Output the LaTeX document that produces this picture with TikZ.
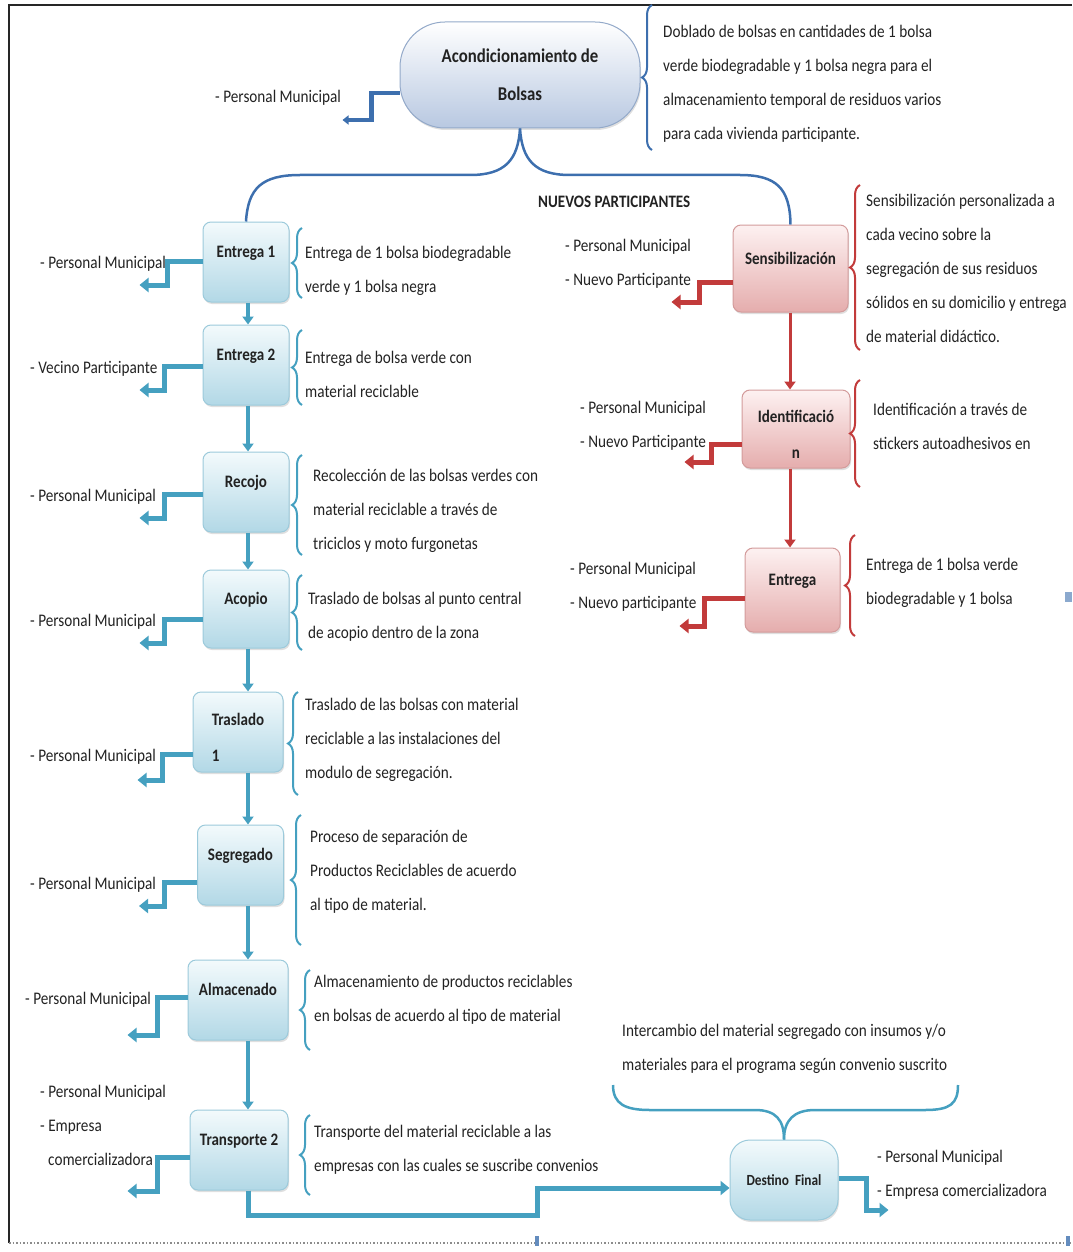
\documentclass[tikz,border=0pt]{standalone}
\usepackage{fontspec}
\setmainfont{Carlito}[FakeStretch=0.86]
\usetikzlibrary{arrows.meta,decorations.pathreplacing,shadows}

\definecolor{bluetop}{HTML}{F3FAFC}
\definecolor{bluebot}{HTML}{B2D8E6}
\definecolor{blueline}{HTML}{9CCADB}
\definecolor{pinktop}{HTML}{FDF1F1}
\definecolor{pinkbot}{HTML}{E5ADAD}
\definecolor{pinkline}{HTML}{D39B9B}
\definecolor{acotop}{HTML}{FFFFFF}
\definecolor{acobot}{HTML}{B8C8E1}
\definecolor{acoline}{HTML}{93A9C9}
\definecolor{tealc}{HTML}{45A0C0}
\definecolor{darkblue}{HTML}{3D6FAE}
\definecolor{redc}{HTML}{C23B3B}
\definecolor{inkc}{HTML}{222222}

\tikzset{
  x=1pt, y=-1pt,
  txt/.style={font=\fontsize{17.7}{34}\selectfont, text=inkc, inner sep=0pt, align=left, anchor=west},
  boxbase/.style={rounded corners=8pt, inner sep=2pt, minimum height=80pt,
    font=\bfseries\fontsize{17.5}{36}\selectfont, text=inkc,
    drop shadow={opacity=0.25, shadow xshift=1pt, shadow yshift=-2pt}},
  bbox/.style={boxbase, draw=blueline, line width=1pt, top color=bluetop, bottom color=bluebot},
  pbox/.style={boxbase, draw=pinkline, line width=1pt, top color=pinktop, bottom color=pinkbot},
  titled/.style={text height=12pt, text depth=21pt},
  tconn/.style={draw=tealc, line width=5pt, -{Triangle[length=9pt,width=14pt]}},
  rconn/.style={draw=redc, line width=5pt, -{Triangle[length=9pt,width=14pt]}},
  tdown/.style={draw=tealc, line width=3.5pt, -{Triangle[length=8pt,width=11pt]}},
  rdown/.style={draw=redc, line width=3pt, -{Triangle[length=8pt,width=11pt]}},
  tbrace/.style={draw=tealc, line width=2pt, decorate, decoration={brace, amplitude=10pt}},
  rbrace/.style={draw=redc, line width=2pt, decorate, decoration={brace, amplitude=10pt}},
  dbrace/.style={draw=darkblue, line width=2pt, decorate, decoration={brace, amplitude=10pt}},
}

\begin{document}
\begin{tikzpicture}
\useasboundingbox (0,0) rectangle (1072,1252);

% page frame
\draw[line width=2pt, black!85] (9,1243) -- (9,5) -- (1072,5);
\draw[line width=1.5pt, black!45, dotted] (9,1243) -- (1072,1243);
\fill[darkblue!80] (535,1236) rectangle (539,1246);
\fill[darkblue!80] (1066,1236) rectangle (1070,1246);
\fill[darkblue!60] (1065,592) rectangle (1072,602);

% guide axes for the vertical arrows
\coordinate (axis) at (248,0);
\coordinate (raxis) at (790,0);
\coordinate (mid) at (537,1215);

% ---------- top node ----------
\node[boxbase, draw=acoline, line width=1pt, top color=acotop, bottom color=acobot,
      rounded corners=45pt, minimum width=240pt, minimum height=106pt, align=center,
      font=\bfseries\fontsize{19.5}{38}\selectfont]
      (acond) at (520,75) {Acondicionamiento de\\Bolsas};
\node[txt] (acondrole) at (215,98) {- Personal Municipal};
\draw[draw=darkblue, line width=4.5pt, -{Triangle[length=6pt,width=9pt]}]
      ([yshift=-18pt]acond.west) -- ++(-28,0) |- ++(-29,27);
\draw[dbrace] (652,150) -- (652,5);
\node[txt] (acondtxt) at (663,84) {Doblado de bolsas en cantidades de 1 bolsa\\verde biodegradable y 1 bolsa negra para el\\almacenamiento temporal de residuos varios\\para cada vivienda participante.};

% ---------- left column ----------
\node[bbox, titled, minimum width=86pt] (e1) at (246,262) {Entrega 1};
\node[bbox, titled, minimum width=86pt] (e2) at (246,365) {Entrega 2};
\node[bbox, titled, minimum width=86pt] (rec) at (246,492) {Recojo};
\node[bbox, titled, minimum width=86pt, minimum height=78pt] (aco) at (246,609) {Acopio};
\node[bbox, minimum width=90pt, align=left] (tra) at (238,732) {\rule{0pt}{22pt}Traslado\\1};
\node[bbox, titled, minimum width=86pt] (seg) at (240.5,865) {Segregado};
\node[bbox, titled, minimum width=100pt] (alm) at (238,1000) {Almacenado};
\node[bbox, titled, minimum width=98pt] (tr2) at (239,1150) {Transporte 2};

% ---------- new participants branch ----------
\node[txt, font=\bfseries\fontsize{17.5}{20}\selectfont] (nuevos) at (538,202) {NUEVOS PARTICIPANTES};
\node[pbox, titled, minimum width=115pt, minimum height=87pt] (sens) at (790.5,268.5) {Sensibilización};
\node[pbox, minimum width=108pt, minimum height=78pt, align=center] (ide) at (796,429) {\rule{0pt}{22pt}Identificació\\n};
\node[pbox, titled, minimum width=95pt, minimum height=84pt] (ent) at (792.5,590) {Entrega};

% big brace from the top node to both branches
\draw[draw=darkblue, line width=2.5pt]
  (e1.north) .. controls (248,188) and (262,175) .. (300,175) -- (470,175)
  .. controls (505,175) and (518,160) .. (acond.south);
\draw[draw=darkblue, line width=2.5pt]
  (acond.south) .. controls (522,160) and (535,175) .. (570,175) -- (740,175)
  .. controls (776,175) and (790,188) .. (sens.north);

% flow arrows
\draw[tdown] (e1.south -| axis) -- (e2.north -| axis);
\draw[tdown] (e2.south -| axis) -- (rec.north -| axis);
\draw[tdown] (rec.south -| axis) -- (aco.north -| axis);
\draw[tdown] (aco.south -| axis) -- (tra.north -| axis);
\draw[tdown] (tra.south -| axis) -- (seg.north -| axis);
\draw[tdown] (seg.south -| axis) -- (alm.north -| axis);
\draw[tdown] (alm.south -| axis) -- (tr2.north -| axis);

% participants
\node[txt] (e1r) at (40,264) {- Personal Municipal};
\node[txt] (e2r) at (30,369) {- Vecino Participante};
\node[txt] (recr) at (30,497) {- Personal Municipal};
\node[txt] (acor) at (30,622) {- Personal Municipal};
\node[txt] (trar) at (30,757) {- Personal Municipal};
\node[txt] (segr) at (30,885) {- Personal Municipal};
\node[txt] (almr) at (25,1000) {- Personal Municipal};
\node[txt] (tr2r) at (40,1125) {- Personal Municipal\\- Empresa\\\hspace*{8pt}comercializadora};

\draw[tconn] ([yshift=1pt]e1.west) -- ++(-35,0) |- ++(-28,24);
\draw[tconn] ([yshift=-1pt]e2.west) -- ++(-38,0) |- ++(-25,24);
\draw[tconn] ([yshift=-2pt]rec.west) -- ++(-38,0) |- ++(-25,24);
\draw[tconn] ([yshift=-10pt]aco.west) -- ++(-38,0) |- ++(-25,24);
\draw[tconn] ([yshift=-22pt]tra.west) -- ++(-30,0) |- ++(-25,26);
\draw[tconn] ([yshift=-17pt]seg.west) -- ++(-33,0) |- ++(-25,24);
\draw[tconn] ([yshift=3pt]alm.west) -- ++(-30,0) |- ++(-30,38);
\draw[tconn] ([yshift=-7pt]tr2.west) -- ++(-32,0) |- ++(-30,34);

% descriptions
\draw[tbrace] (302,298) -- (302,228);
\node[txt] (e1d) at (305,270.5) {Entrega de 1 bolsa biodegradable\\verde y 1 bolsa negra};
\draw[tbrace] (302,405) -- (302,330);
\node[txt] (e2d) at (305,374.5) {Entrega de bolsa verde con\\material reciclable};
\draw[tbrace] (302,555) -- (302,455);
\node[txt] (recd) at (313,511) {Recolección de las bolsas verdes con\\material reciclable a través de\\triciclos y moto furgonetas};
\draw[tbrace] (302,650) -- (302,575);
\node[txt] (acod) at (308,617) {Traslado de bolsas al punto central\\de acopio dentro de la zona};
\draw[tbrace] (298,795) -- (298,692);
\node[txt] (trad) at (305,740) {Traslado de las bolsas con material\\reciclable a las instalaciones del\\modulo de segregación.};
\draw[tbrace] (301,945) -- (301,815);
\node[txt] (segd) at (310,872) {Proceso de separación de\\Productos Reciclables de acuerdo\\al tipo de material.};
\draw[tbrace] (310,1050) -- (310,970);
\node[txt] (almd) at (314,1000) {Almacenamiento de productos reciclables\\en bolsas de acuerdo al tipo de material};
\draw[tbrace] (310,1195) -- (310,1115);
\node[txt] (tr2d) at (314,1150) {Transporte del material reciclable a las\\empresas con las cuales se suscribe convenios};

% ---------- final destination ----------
\node[bbox, rounded corners=20pt, minimum width=108pt, font=\bfseries\fontsize{15.5}{20}\selectfont]
      (dest) at (784,1180) {Destino\ \ Final};
\draw[tconn] (tr2.south -| axis) |- (mid) |- ([yshift=-8pt]dest.west);
\draw[tconn] ([yshift=2pt]dest.east) -- ++(28,0) |- ++(22,32);
\node[txt] (destr) at (877,1175) {- Personal Municipal\\- Empresa comercializadora};
\draw[draw=tealc, line width=2.5pt]
  (613,1085) .. controls (613,1104) and (625,1110) .. (650,1110) -- (755,1110)
  .. controls (776,1110) and (784,1120) .. (dest.north);
\draw[draw=tealc, line width=2.5pt]
  (dest.north) .. controls (784,1120) and (794,1110) .. (815,1110) -- (925,1110)
  .. controls (950,1110) and (958,1104) .. (958,1085);
\node[txt] (destd) at (622,1049) {Intercambio del material segregado con insumos y/o\\materiales para el programa según convenio suscrito};

% red flow
\draw[rdown] (sens.south -| raxis) -- (ide.north -| raxis);
\draw[rdown] (ide.south -| raxis) -- (ent.north -| raxis);

\node[txt] (sensr) at (565,263.5) {- Personal Municipal\\- Nuevo Participante};
\node[txt] (ider) at (580,426) {- Personal Municipal\\- Nuevo Participante};
\node[txt] (entr) at (570,587) {- Personal Municipal\\- Nuevo participante};

\draw[rconn] ([yshift=-13.5pt]sens.west) -- ++(-33,0) |- ++(-28,20);
\draw[rconn] ([yshift=-15pt]ide.west) -- ++(-30,0) |- ++(-27,18);
\draw[rconn] ([yshift=-8pt]ent.west) -- ++(-40,0) |- ++(-25,28);

\draw[rbrace] (860,350) -- (860,185);
\node[txt] (sensd) at (866,268) {Sensibilización personalizada a\\cada vecino sobre la\\segregación de sus residuos\\sólidos en su domicilio y entrega\\de material didáctico.};
\draw[rbrace] (860,487) -- (860,380);
\node[txt] (ided) at (873,426) {Identificación a través de\\stickers autoadhesivos en};
\draw[rbrace] (855,636) -- (855,535);
\node[txt] (entd) at (866,583) {Entrega de 1 bolsa verde\\biodegradable y 1 bolsa};
\end{tikzpicture}
\end{document}
